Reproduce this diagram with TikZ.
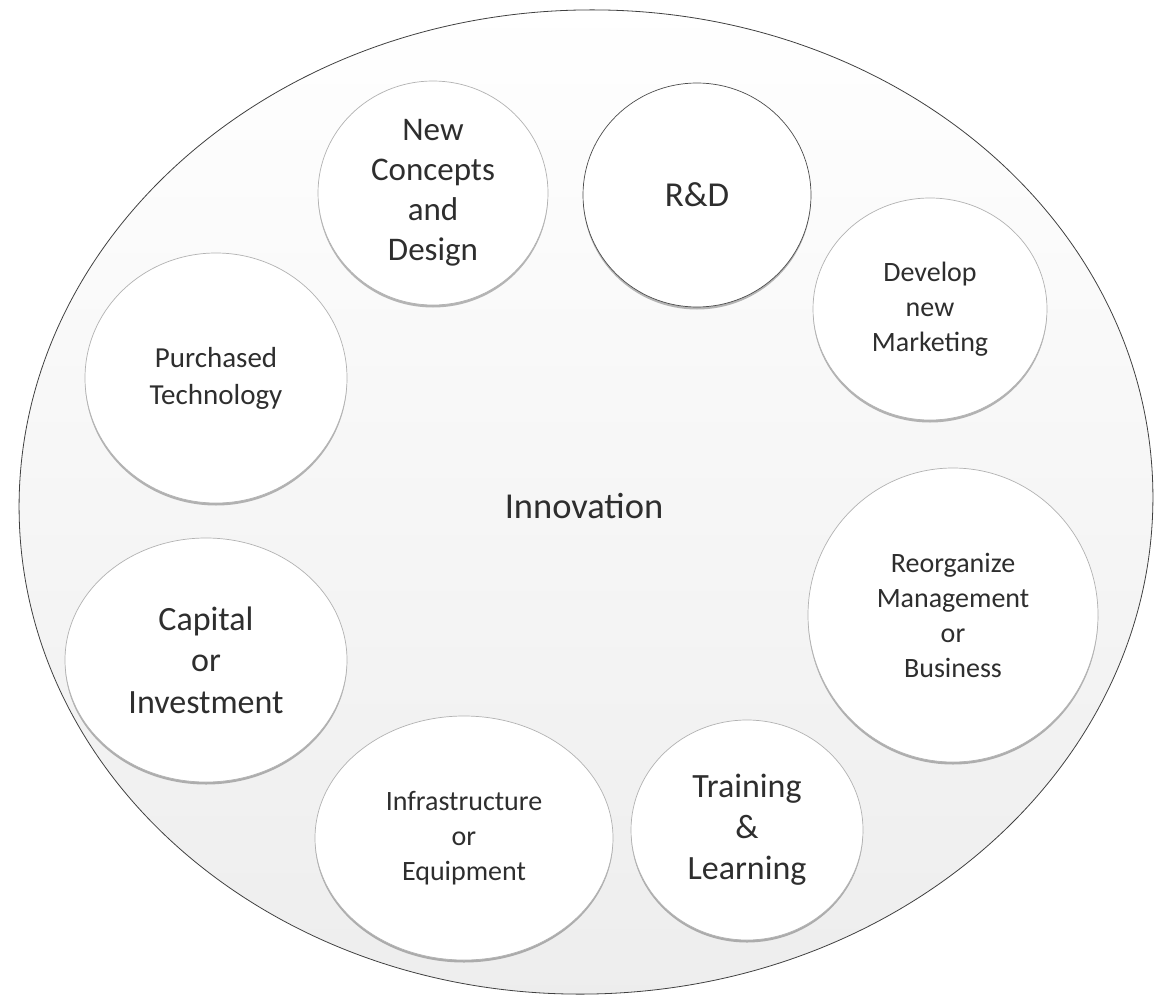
\documentclass[tikz,border=0pt]{standalone}
\usepackage{fontspec}
\setmainfont{Carlito}
\usetikzlibrary{shapes.geometric,shadows}

% font size with Calibri-like line spacing
\newcommand{\fsz}[2]{\fontsize{#1}{#2}\selectfont}

\tikzset{
  frame/.style={ellipse, draw=black!75, line width=0.8pt, inner sep=0pt,
    top color=white, middle color=white, bottom color=black!7},
  bubble/.style={ellipse, draw=black!30, line width=0.7pt, fill=white,
    inner sep=0pt, align=center, text=black!82,
    drop shadow={shadow xshift=0pt, shadow yshift=-2.5pt, opacity=0.28, fill=black}},
  darkbubble/.style={bubble, draw=black!70},
  title/.style={text=black!82, font=\fsz{36.5}{44}}
}

\begin{document}
\begin{tikzpicture}[x=1pt, y=-1pt]
  \useasboundingbox (0,0) rectangle (1154,998);

  % outer oval enclosing everything
  \node[frame, rotate=2, minimum width=1134pt, minimum height=984pt] (oval) at (586,502) {};

  % central label
  \node[title] (innovation) at (584,506) {Innovation};

  % surrounding bubbles
  \node[bubble, minimum width=230pt, minimum height=224pt, font=\fsz{33}{40}]
    (concepts) at (433,193) {New\\Concepts\\and\\Design};
  \node[darkbubble, minimum width=228pt, minimum height=224pt, font=\fsz{35}{42}]
    (rd) at (697,195) {R\&D};
  \node[bubble, minimum width=234pt, minimum height=222pt, font=\fsz{28}{35}]
    (marketing) at (930,309) {Develop\\new\\Marketing};
  \node[bubble, minimum width=262pt, minimum height=250pt, font=\fsz{29}{37}]
    (purchased) at (216,378) {Purchased\\Technology};
  \node[bubble, minimum width=290pt, minimum height=294pt, font=\fsz{28}{35}]
    (reorganize) at (953,615) {Reorganize\\Management\\or\\Business};
  \node[bubble, minimum width=282pt, minimum height=244pt, font=\fsz{34}{41.5}]
    (capital) at (206,660) {Capital\\or\\Investment};
  \node[bubble, minimum width=298pt, minimum height=244pt, font=\fsz{28}{35}]
    (infra) at (464,838) {Infrastructure\\or\\Equipment};
  \node[bubble, minimum width=232pt, minimum height=220pt, font=\fsz{34}{41}]
    (training) at (747,830) {Training\\\&\\Learning};
\end{tikzpicture}
\end{document}
